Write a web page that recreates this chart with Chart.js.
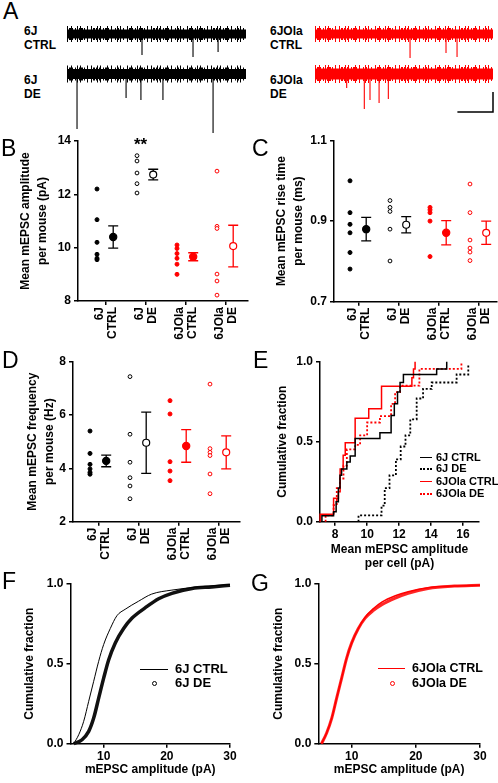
<!DOCTYPE html>
<html>
<head>
<meta charset="utf-8">
<script src="https://cdn.jsdelivr.net/npm/chart.js@4"></script>
<style>
body { margin: 0; background: #fff; }
#fig { position: relative; width: 498px; height: 783px; overflow: hidden; font-family: "Liberation Sans", Arial, sans-serif; color: #000; }
canvas { position: absolute; display: block; }
.lbl { position: absolute; font-weight: bold; font-size: 12px; line-height: 14px; white-space: nowrap; }
.letter { position: absolute; font-size: 23px; line-height: 23px; }
.leg { position: absolute; font-weight: bold; white-space: nowrap; }
.sw { position: absolute; height: 0; }
.dot { position: absolute; width: 3px; height: 3px; border-radius: 50%; }
</style>
</head>
<body>
<div id="fig">
  <canvas id="traceL" width="179" height="115" style="left:67px;top:20px"></canvas>
  <canvas id="traceR" width="183" height="115" style="left:315px;top:20px"></canvas>
  <canvas id="chartB" width="250" height="215" style="left:0px;top:130px"></canvas>
  <canvas id="chartC" width="248" height="215" style="left:250px;top:130px"></canvas>
  <canvas id="chartD" width="250" height="222" style="left:0px;top:350px"></canvas>
  <canvas id="chartE" width="248" height="222" style="left:250px;top:350px"></canvas>
  <canvas id="chartF" width="250" height="208" style="left:0px;top:575px"></canvas>
  <canvas id="chartG" width="248" height="208" style="left:250px;top:575px"></canvas>

  <div class="letter" style="left:3px;top:0px">A</div>
  <div class="letter" style="left:1px;top:137px">B</div>
  <div class="letter" style="left:252px;top:137px">C</div>
  <div class="letter" style="left:2px;top:349px">D</div>
  <div class="letter" style="left:253px;top:349px">E</div>
  <div class="letter" style="left:2px;top:570px">F</div>
  <div class="letter" style="left:251px;top:572px">G</div>

  <div class="lbl" style="left:24px;top:24px">6J<br>CTRL</div>
  <div class="lbl" style="left:24px;top:73px">6J<br>DE</div>
  <div class="lbl" style="left:270px;top:24px">6JOla<br>CTRL</div>
  <div class="lbl" style="left:270px;top:73px">6JOla<br>DE</div>

  <div class="lbl" style="left:134px;top:138px;font-size:17px">**</div>

  <!-- legend E -->
  <div class="sw" style="left:420px;top:457px;width:12px;border-top:1.5px solid #000"></div>
  <div class="sw" style="left:420px;top:468px;width:12px;border-top:2px dotted #000"></div>
  <div class="sw" style="left:420px;top:481px;width:12px;border-top:1.5px solid #f00"></div>
  <div class="sw" style="left:420px;top:493px;width:12px;border-top:2px dotted #f00"></div>
  <div class="leg" style="left:436px;top:451px;font-size:11px;line-height:12px">6J CTRL</div>
  <div class="leg" style="left:436px;top:462px;font-size:11px;line-height:12px">6J DE</div>
  <div class="leg" style="left:436px;top:475px;font-size:11px;line-height:12px">6JOla CTRL</div>
  <div class="leg" style="left:436px;top:487px;font-size:11px;line-height:12px">6JOla DE</div>

  <!-- legend F -->
  <div class="sw" style="left:140px;top:669px;width:28px;border-top:1px solid #000"></div>
  <div class="dot" style="left:152px;top:681px;border:1px solid #000"></div>
  <div class="leg" style="left:175px;top:662px;font-size:13px;line-height:14px">6J CTRL</div>
  <div class="leg" style="left:175px;top:676px;font-size:13px;line-height:14px">6J DE</div>

  <!-- legend G -->
  <div class="sw" style="left:378px;top:668px;width:27px;border-top:1.5px solid #f00"></div>
  <div class="dot" style="left:390px;top:681px;border:1px solid #f00"></div>
  <div class="leg" style="left:412px;top:661px;font-size:12.5px;line-height:14px">6JOla CTRL</div>
  <div class="leg" style="left:412px;top:676px;font-size:12.5px;line-height:14px">6JOla DE</div>
</div>

<script>
// ---- data ----
const groupLabels = [['6J', 'CTRL'], ['6J', 'DE'], ['6JOla', 'CTRL'], ['6JOla', 'DE']];
const groupColors = ['#000000', '#000000', '#ff0000', '#ff0000'];
const groupFilled = [true, false, true, false];

// A: example traces (event times in arbitrary units over 1000, amplitudes in pA)
const traceLen = 1000;
const traceScaleBar = [200, 20];
const ev6jCtrlT = [419, 704, 844];
const ev6jCtrlA = [21, 23, 18];
const ev6jDeT = [56, 330, 413, 536, 816];
const ev6jDeA = [55, 24, 26, 26, 59];
const evOlaCtrlT = [534, 736, 798];
const evOlaCtrlA = [24, 19, 23];
const evOlaDeT = [178, 277, 309, 360, 412];
const evOlaDeA = [14, 35, 26, 29, 25];

// B: mean mEPSC amplitude per mouse (pA)
const ampDots = [
    [12.2, 11.05, 10.2, 9.75, 9.6, 9.55],
    [13.45, 13.25, 12.8, 12.4, 12.05],
    [10.1, 9.97, 9.78, 9.6, 9.38, 9.0],
    [12.87, 10.8, 10.72, 9.01, 8.75, 8.22]
];
const ampMean = [10.4, 12.74, 9.66, 10.06];
const ampSem = [0.42, 0.2, 0.15, 0.78];
const ampTicks = [8, 10, 12, 14];

// C: mean mEPSC rise time per mouse (ms)
const riseDots = [
    [1.0, 0.921, 0.892, 0.871, 0.822, 0.781],
    [0.951, 0.934, 0.924, 0.88, 0.801],
    [0.934, 0.928, 0.921, 0.9, 0.812],
    [0.992, 0.921, 0.853, 0.833, 0.823, 0.802]
];
const riseMean = [0.88, 0.891, 0.871, 0.871];
const riseSem = [0.029, 0.02, 0.03, 0.029];
const riseTicks = [0.7, 0.9, 1.1];

// D: mean mEPSC frequency per mouse (Hz)
const freqDots = [
    [5.4, 4.56, 4.15, 3.98, 3.85, 3.78],
    [7.44, 5.28, 4.23, 3.65, 3.34, 2.86],
    [6.54, 6.04, 4.25, 3.9, 3.54],
    [7.16, 4.74, 4.6, 4.48, 3.79, 3.05]
];
const freqMean = [4.28, 4.96, 4.84, 4.6];
const freqSem = [0.22, 1.15, 0.61, 0.62];
const freqTicks = [2, 4, 6, 8];

// E: cumulative fraction of mean amplitude per cell
const e6jCtrlX = [7.17, 7.17, 7.9, 8.06, 8.2, 8.3, 8.4, 8.73, 8.94, 9.25, 10.8, 11.5, 11.7, 11.9, 12.06, 12.27, 14.35, 14.98];
const e6jCtrlY = [0, 0.037, 0.062, 0.124, 0.21, 0.29, 0.33, 0.373, 0.41, 0.52, 0.556, 0.664, 0.737, 0.81, 0.87, 0.92, 0.955, 1.0];
const e6jDeX = [9.46, 9.46, 10.9, 11.1, 11.4, 11.8, 12.1, 12.4, 12.7, 13.1, 13.5, 14.04, 15.6, 16.33];
const e6jDeY = [0, 0.04, 0.1, 0.21, 0.29, 0.39, 0.47, 0.54, 0.64, 0.77, 0.83, 0.87, 0.92, 0.985];
const eOlaCtrlX = [7.06, 7.06, 7.9, 8.2, 8.31, 8.5, 8.63, 9.25, 10.1, 10.9, 12.8, 12.9, 13.0];
const eOlaCtrlY = [0, 0.046, 0.146, 0.187, 0.33, 0.415, 0.494, 0.647, 0.706, 0.846, 0.9, 0.955, 1.0];
const eOlaDeX = [7.4, 7.4, 7.9, 8.1, 8.3, 8.52, 8.73, 9.25, 9.56, 10.0, 10.8, 11.5, 11.75, 12.06, 13.27, 15.9];
const eOlaDeY = [0, 0.04, 0.104, 0.21, 0.27, 0.35, 0.452, 0.48, 0.54, 0.62, 0.66, 0.737, 0.81, 0.85, 0.955, 1.0];
const eTicks = [8, 10, 12, 14, 16];

// F/G: cumulative fraction of all mEPSC amplitudes
const f6jCtrlX = [5.26, 6.05, 6.84, 7.63, 8.42, 9.21, 10.0, 11.05, 12.1, 13.4, 15.5, 17.6, 20.8, 25, 30];
const f6jCtrlY = [0, 0.056, 0.14, 0.265, 0.39, 0.515, 0.62, 0.72, 0.8, 0.84, 0.89, 0.935, 0.96, 0.98, 0.995];
const f6jDeX = [5.26, 6.58, 7.63, 8.42, 9.21, 10.0, 10.8, 11.84, 13.16, 14.5, 16.6, 18.7, 20.8, 24, 27.1, 30];
const f6jDeY = [0, 0.025, 0.077, 0.16, 0.285, 0.41, 0.525, 0.63, 0.72, 0.785, 0.85, 0.906, 0.94, 0.97, 0.98, 0.99];
const gOlaX = [5.3, 6.1, 6.9, 7.66, 8.44, 9.22, 10.0, 11.04, 12.1, 13.4, 14.7, 16.8, 18.8, 21.9, 26, 30];
const gOlaCtrlY = [0, 0.067, 0.16, 0.285, 0.41, 0.535, 0.63, 0.72, 0.79, 0.845, 0.885, 0.925, 0.95, 0.975, 0.985, 0.99];
const gOlaDeY = [0, 0.067, 0.16, 0.285, 0.41, 0.535, 0.63, 0.72, 0.785, 0.833, 0.869, 0.91, 0.94, 0.97, 0.985, 0.99];
const ampTicksFG = [10, 20, 30];
const fracTicks = [0, 0.5, 1];

// ---- helpers ----
const FONT_FAMILY = '"Liberation Sans", Arial, sans-serif';
Chart.defaults.font.family = FONT_FAMILY;
Chart.defaults.font.weight = 'bold';
Chart.defaults.color = '#000';

const AXIS_FONT = { size: 12, weight: 'bold' };
const dotShift = -0.225;
const meanShift = 0.18;

const zip = (xs, ys) => xs.map((x, i) => ({ x: x, y: ys[i] }));

function fixSize(prop, size) {
    return s => {
        s[prop] = size;
        s.paddingLeft = s.paddingRight = s.paddingTop = s.paddingBottom = 0;
    };
}

function baseScale(min, max) {
    return {
        type: 'linear', min: min, max: max,
        border: { color: '#000', width: 1.5 },
        grid: { drawOnChartArea: false, color: '#000', lineWidth: 1.5, tickLength: 4 }
    };
}

// draws mean +/- sem bars for datasets carrying a `sem` array
const errorBars = {
    id: 'errorBars',
    beforeDatasetsDraw(chart) {
        const ctx = chart.ctx;
        const xs = chart.scales.x, ys = chart.scales.y;
        chart.data.datasets.forEach(ds => {
            if (!ds.sem) return;
            ds.data.forEach((p, i) => {
                const x = xs.getPixelForValue(p.x);
                const top = ys.getPixelForValue(p.y + ds.sem[i]);
                const bot = ys.getPixelForValue(p.y - ds.sem[i]);
                ctx.save();
                ctx.strokeStyle = ds.pointBorderColor;
                ctx.lineWidth = 1.3;
                ctx.beginPath();
                ctx.moveTo(x, top); ctx.lineTo(x, bot);
                ctx.moveTo(x - 5, top); ctx.lineTo(x + 5, top);
                ctx.moveTo(x - 5, bot); ctx.lineTo(x + 5, bot);
                ctx.stroke();
                ctx.restore();
            });
        });
    }
};

// two-line group names, rotated, ending just under the axis
const groupTickLabels = {
    id: 'groupTickLabels',
    afterDraw(chart) {
        const xs = chart.scales.x, ctx = chart.ctx;
        const top = xs.top + 6;
        ctx.save();
        ctx.font = 'bold 12px ' + FONT_FAMILY;
        ctx.fillStyle = '#000';
        ctx.textAlign = 'right';
        ctx.textBaseline = 'middle';
        groupLabels.forEach((lines, i) => {
            const x = xs.getPixelForValue(i + 1);
            lines.forEach((txt, j) => {
                ctx.save();
                ctx.translate(x + (j - (lines.length - 1) / 2) * 12.5, top);
                ctx.rotate(-Math.PI / 2);
                ctx.fillText(txt, 0, 0);
                ctx.restore();
            });
        });
        ctx.restore();
    }
};

function traceChart(id, xMax, traces, barY) {
    const datasets = [];
    traces.forEach(tr => {
        const spikes = [];
        tr.t.forEach((t, i) => {
            spikes.push({ x: t, y: tr.base }, { x: t, y: tr.base - tr.amp[i] }, { x: t, y: null });
        });
        const flat = [{ x: 0, y: tr.base }, { x: traceLen, y: tr.base }];
        datasets.push({ data: spikes, showLine: true, spanGaps: false, borderColor: tr.color, borderWidth: 1.1, pointRadius: 0 });
        datasets.push({ data: flat, showLine: true, borderColor: tr.color, borderWidth: tr.core, pointRadius: 0 });
        // ragged noise fringe around the solid core
        datasets.push({ data: flat, showLine: true, borderColor: tr.color, borderWidth: tr.core + 3,
            borderDash: [1, 1, 2, 1, 1, 2, 1, 3], pointRadius: 0 });
        datasets.push({ data: flat, showLine: true, borderColor: tr.color, borderWidth: tr.core + 7,
            borderDash: [1, 3, 1, 5, 1, 2, 1, 6], pointRadius: 0 });
    });
    if (barY !== undefined) {
        datasets.push({
            data: [{ x: traceLen - traceScaleBar[0], y: barY }, { x: traceLen, y: barY }, { x: traceLen, y: barY + traceScaleBar[1] }],
            showLine: true, borderColor: '#000', borderWidth: 1.5, pointRadius: 0
        });
    }
    new Chart(document.getElementById(id), {
        type: 'scatter',
        data: { datasets },
        options: {
            responsive: false, animation: false, events: [],
            layout: { autoPadding: false, padding: 0 },
            plugins: { legend: { display: false }, tooltip: { enabled: false } },
            scales: {
                x: { type: 'linear', display: false, min: 0, max: xMax },
                y: { type: 'linear', display: false, min: -101, max: 14 }
            }
        }
    });
}

function dotPlot(id, dots, means, sems, yMin, yMax, yTicks, fmt, yTitle, g) {
    const datasets = [];
    dots.forEach((vals, k) => {
        const col = groupColors[k], filled = groupFilled[k];
        datasets.push({
            data: vals.map(v => ({ x: k + 1 + dotShift, y: v })),
            pointRadius: filled ? 2 : 1.9,
            pointBorderWidth: 1,
            pointBackgroundColor: filled ? col : '#fff',
            pointBorderColor: col
        });
        datasets.push({
            data: [{ x: k + 1 + meanShift, y: means[k] }],
            sem: [sems[k]],
            pointRadius: filled ? 3.6 : 3.5,
            pointBorderWidth: 1.2,
            pointBackgroundColor: filled ? col : '#fff',
            pointBorderColor: col
        });
    });
    new Chart(document.getElementById(id), {
        type: 'scatter',
        data: { datasets },
        options: {
            responsive: false, animation: false, events: [],
            layout: { autoPadding: false, padding: g.pad },
            plugins: { legend: { display: false }, tooltip: { enabled: false } },
            scales: {
                x: {
                    ...baseScale(g.xMin, g.xMax),
                    afterBuildTicks: s => { s.ticks = groupLabels.map((_, i) => ({ value: i + 1 })); },
                    afterFit: fixSize('height', g.xH),
                    ticks: { display: false }
                },
                y: {
                    ...baseScale(yMin, yMax),
                    afterBuildTicks: s => { s.ticks = yTicks.map(v => ({ value: v })); },
                    afterFit: fixSize('width', g.yW),
                    ticks: { color: '#000', font: AXIS_FONT, padding: 3, callback: fmt },
                    title: { display: true, text: yTitle, color: '#000', font: { size: 12, weight: 'bold', lineHeight: 1.4 },
                        padding: { top: g.tPad, bottom: 0 } }
                }
            }
        },
        plugins: [errorBars, groupTickLabels]
    });
}

function cumChart(id, datasets, g) {
    new Chart(document.getElementById(id), {
        type: 'scatter',
        data: { datasets },
        options: {
            responsive: false, animation: false, events: [],
            layout: { autoPadding: false, padding: g.pad },
            plugins: { legend: { display: false }, tooltip: { enabled: false } },
            scales: {
                x: {
                    ...baseScale(g.xMin, g.xMax),
                    afterBuildTicks: s => { s.ticks = g.xTicks.map(v => ({ value: v })); },
                    afterFit: fixSize('height', g.xH),
                    ticks: { color: '#000', font: AXIS_FONT, padding: 2, maxRotation: 0 },
                    title: { display: true, text: g.xTitle, color: '#000', font: { size: 12, weight: 'bold', lineHeight: 1.17 },
                        padding: { top: 0, bottom: g.xtPad } }
                },
                y: {
                    ...baseScale(0, 1),
                    afterBuildTicks: s => { s.ticks = fracTicks.map(v => ({ value: v })); },
                    afterFit: fixSize('width', g.yW),
                    ticks: { color: '#000', font: AXIS_FONT, padding: 3, callback: v => v.toFixed(1) },
                    title: { display: true, text: 'Cumulative fraction', color: '#000', font: { size: 12, weight: 'bold' },
                        padding: { top: g.ytPad, bottom: 0 } }
                }
            }
        }
    });
}

function stepSet(xs, ys, color, dotted) {
    return {
        data: zip(xs, ys), showLine: true, stepped: 'before', clip: false,
        borderColor: color, borderWidth: dotted ? 1.8 : 1.5, borderDash: dotted ? [2, 2] : [],
        pointRadius: 0
    };
}

function curveSet(xs, ys, color, width) {
    return {
        data: zip(xs, ys), showLine: true, cubicInterpolationMode: 'monotone', clip: false,
        borderColor: color, borderWidth: width, pointRadius: 0
    };
}

// ---- A ----
traceChart('traceL', traceLen, [
    { t: ev6jCtrlT, amp: ev6jCtrlA, base: 0, color: '#000', core: 9 },
    { t: ev6jDeT, amp: ev6jDeA, base: -40, color: '#000', core: 10 }
]);
traceChart('traceR', traceLen * 183 / 178, [
    { t: evOlaCtrlT, amp: evOlaCtrlA, base: 0, color: '#ff0000', core: 9 },
    { t: evOlaDeT, amp: evOlaDeA, base: -40, color: '#ff0000', core: 11 }
], -78);

// ---- B, C, D ----
dotPlot('chartB', ampDots, ampMean, ampSem, 8, 14, ampTicks, v => v,
    ['Mean mEPSC amplitude', 'per mouse (pA)'],
    { pad: { top: 11, right: 2, left: 0, bottom: 0 }, yW: 78, xH: 44, xMin: 0.3, xMax: 4.55, tPad: 17 });
dotPlot('chartC', riseDots, riseMean, riseSem, 0.7, 1.1, riseTicks, v => v.toFixed(1),
    ['Mean mEPSC rise time', 'per mouse (ms)'],
    { pad: { top: 10.5, right: 1, left: 0, bottom: 0 }, yW: 84, xH: 43.3, xMin: 0.375, xMax: 4.45, tPad: 23.6 });
dotPlot('chartD', freqDots, freqMean, freqSem, 2, 8, freqTicks, v => v,
    ['Mean mEPSC frequency', 'per mouse (Hz)'],
    { pad: { top: 11.7, right: 10, left: 0, bottom: 0 }, yW: 73, xH: 50.3, xMin: 0.35, xMax: 4.525, tPad: 24.6 });

// ---- E ----
cumChart('chartE', [
    stepSet(e6jCtrlX, e6jCtrlY, '#000', false),
    stepSet(eOlaCtrlX, eOlaCtrlY, '#ff0000', false),
    stepSet(e6jDeX, e6jDeY, '#000', true),
    stepSet(eOlaDeX, eOlaDeY, '#ff0000', true)
], { pad: { top: 11.7, right: 19, left: 0, bottom: 0 }, yW: 70, xH: 50.3, xMin: 7.05, xMax: 17, xTicks: eTicks,
     xTitle: ['Mean mEPSC amplitude', 'per cell (pA)'], xtPad: 1, ytPad: 25.8 });

// ---- F, G ----
cumChart('chartF', [
    curveSet(f6jCtrlX, f6jCtrlY, '#000', 1),
    curveSet(f6jDeX, f6jDeY, '#111', 3.5)
], { pad: { top: 8.7, right: 20, left: 0, bottom: 0 }, yW: 70.5, xH: 39.3, xMin: 4.75, xMax: 30, xTicks: ampTicksFG,
     xTitle: 'mEPSC amplitude (pA)', xtPad: 6, ytPad: 22.8 });
cumChart('chartG', [
    curveSet(gOlaX, gOlaCtrlY, '#ff0000', 1.5),
    curveSet(gOlaX, gOlaDeY, 'rgba(255,0,0,0.85)', 3)
], { pad: { top: 8.7, right: 18, left: 0, bottom: 0 }, yW: 68.3, xH: 39.3, xMin: 4.8, xMax: 30, xTicks: ampTicksFG,
     xTitle: 'mEPSC amplitude (pA)', xtPad: 6, ytPad: 21.8 });
</script>
</body>
</html>
